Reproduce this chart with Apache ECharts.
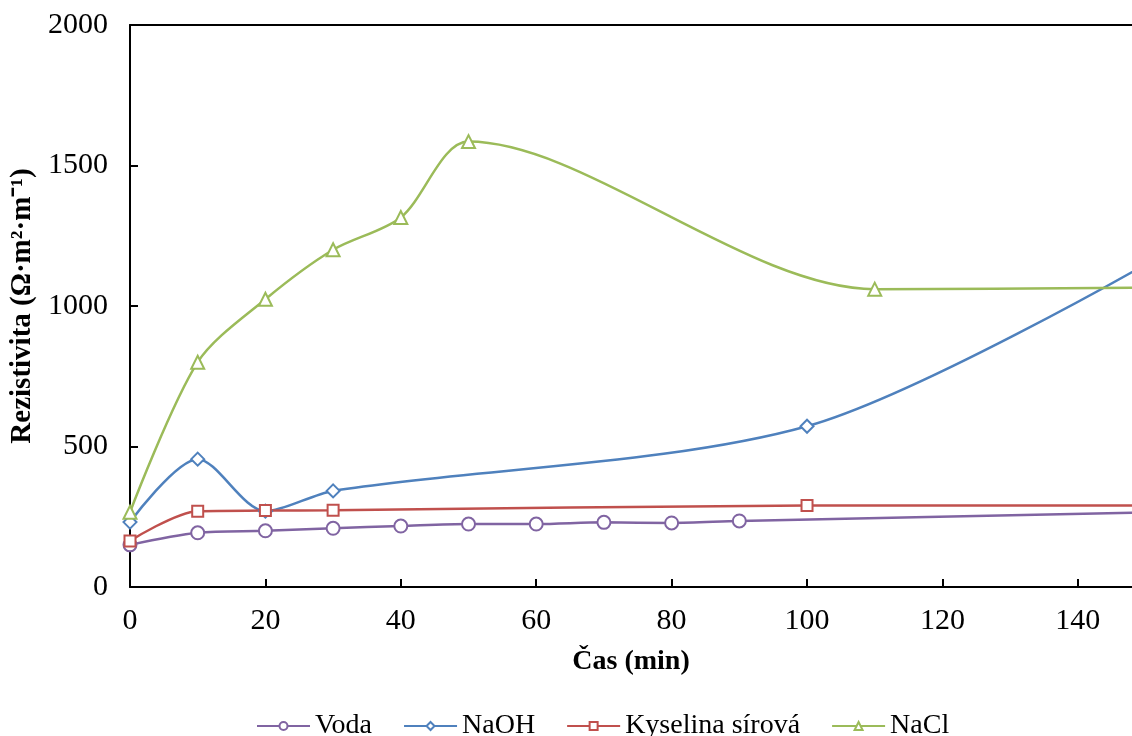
<!doctype html>
<html>
<head>
    <meta charset="utf-8">
    <title>Rezistivita</title>
    <style>
        html, body { margin: 0; padding: 0; background: #fff; }
        #chartEle { width: 1132px; height: 736px; }
    </style>
</head>
<body>
<div id="chartEle"></div>
<script src="https://cdn.jsdelivr.net/npm/echarts@6/dist/echarts.min.js"></script>
<script>
    // data: [cas (min), rezistivita]
    var seriesNames = ['Voda', 'NaOH', 'Kyselina sírová', 'NaCl'];
    var voda = [[0, 150], [10, 193], [20, 200], [30, 209], [40, 217], [50, 224], [60, 224], [70, 230], [80, 228], [90, 235], [150, 265]];
    var naoh = [[0, 231], [10, 455], [20, 270], [30, 342], [100, 572], [150, 1148]];
    var kyselina = [[0, 164], [10, 270], [20, 272], [30, 273], [100, 290], [150, 290]];
    var nacl = [[0, 266], [10, 800], [20, 1024], [30, 1200], [40, 1315], [50, 1585], [110, 1060], [150, 1065]];
    var xTicks = [0, 20, 40, 60, 80, 100, 120, 140];
    var yTicks = [0, 500, 1000, 1500, 2000];

    var colors = ['#8064A2', '#4F81BD', '#C0504D', '#9BBB59'];
    var symbols = ['emptyCircle', 'emptyDiamond', 'emptyRect', 'emptyTriangle'];
    var font = '"Liberation Serif", "Times New Roman", serif';

    var myChart = echarts.init(document.getElementById('chartEle'));

    function lineSeries(i, data) {
        return {
            name: seriesNames[i],
            type: 'line',
            smooth: 0.3,
            data: data,
            symbol: symbols[i],
            symbolSize: i == 2 ? 11 : 13,
            clip: true,
            lineStyle: { color: colors[i], width: 2.5 },
            itemStyle: { color: colors[i], borderColor: colors[i], borderWidth: 1.6 }
        };
    }

    var option = {
        animation: false,
        color: colors,
        textStyle: { fontFamily: font },
        grid: { left: 130, right: 0, top: 25, bottom: 149, outerBoundsMode: 'none' },
        legend: {
            top: 707,
            left: 251,
            itemWidth: 53,
            itemHeight: 10,
            itemGap: 31,
            textStyle: { fontFamily: font, fontSize: 28, color: '#000' },
            data: seriesNames
        },
        xAxis: [{
            type: 'value',
            min: xTicks[0],
            max: 148,
            interval: xTicks[1] - xTicks[0],
            name: 'Čas (min)',
            nameLocation: 'middle',
            nameGap: 61,
            nameTextStyle: { fontFamily: font, fontSize: 28, fontWeight: 'bold', color: '#000' },
            axisLine: { lineStyle: { color: '#000', width: 2 } },
            axisTick: { inside: true, length: 8, lineStyle: { color: '#000', width: 2 } },
            axisLabel: { fontFamily: font, fontSize: 30, color: '#000', margin: 19, showMaxLabel: false,
                formatter: function (v) { return String(v); } },
            splitLine: { show: false }
        }, {
            type: 'value',
            position: 'top',
            min: 0,
            max: 148,
            axisLine: { show: true, onZero: false, lineStyle: { color: '#000', width: 2 } },
            axisTick: { show: false },
            axisLabel: { show: false },
            splitLine: { show: false }
        }],
        yAxis: {
            type: 'value',
            min: yTicks[0],
            max: yTicks[yTicks.length - 1],
            interval: yTicks[1] - yTicks[0],
            name: 'Rezistivita (Ω·m²·m⁻¹)',
            nameLocation: 'middle',
            nameGap: 90,
            nameTextStyle: { fontFamily: font, fontSize: 29, fontWeight: 'bold', color: '#000' },
            axisLine: { show: true, lineStyle: { color: '#000', width: 2 } },
            axisTick: { show: true, inside: true, length: 8, lineStyle: { color: '#000', width: 2 } },
            axisLabel: { fontFamily: font, fontSize: 30, color: '#000', margin: 22,
                formatter: function (v) { return String(v); } },
            splitLine: { show: false }
        },
        series: [
            lineSeries(0, voda),
            lineSeries(1, naoh),
            lineSeries(2, kyselina),
            lineSeries(3, nacl)
        ]
    };
    myChart.setOption(option);
</script>
</body>
</html>
